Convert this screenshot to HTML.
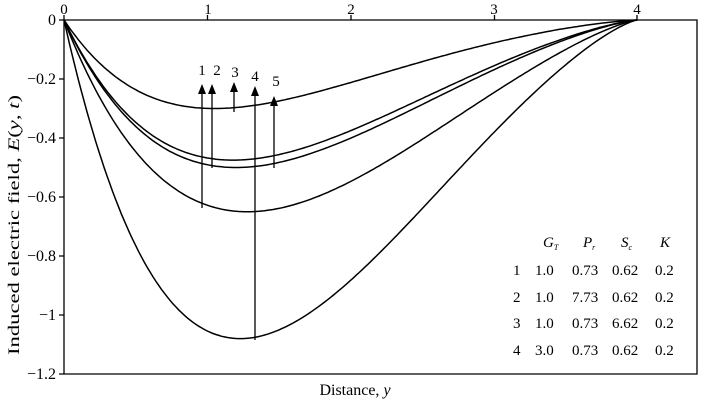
<!DOCTYPE html>
<html><head><meta charset="utf-8"><style>
body{margin:0;background:#fff}
svg{display:block}
text{font-family:"Liberation Serif",serif;fill:#000}
</style></head><body>
<svg id="s" width="709" height="402" viewBox="0 0 709 402" xmlns="http://www.w3.org/2000/svg">
<g stroke="#000" stroke-width="1.3" fill="none">
<path d="M64,20 H697 V374 H64 Z"/>
<path d="M64,20v-5M207.5,20v-5M351,20v-5M494.5,20v-5M637,20v-5"/>
<path d="M64,20h-5M64,79h-5M64,138h-5M64,197h-5M64,256h-5M64,315h-5M64,374h-5"/>
<g id="curves" stroke-width="1.5"></g>
<path d="M202,208V92M212,168V92M234,112V90M255,340V94M274,168V104"/>
</g>
<g fill="#000">
<path d="M198,94L202,84L206,94Z"/>
<path d="M208,94L212,84L216,94Z"/>
<path d="M230,92L234,82L238,92Z"/>
<path d="M251,96L255,86L259,96Z"/>
<path d="M270,106L274,96L278,106Z"/>
</g>
<g font-size="15" text-anchor="middle">
<text x="64" y="14">0</text><text x="208" y="14">1</text><text x="351" y="14">2</text><text x="494" y="14">3</text><text x="637" y="14">4</text>
</g>
<g font-size="16" text-anchor="end">
<text x="56" y="25">0</text><text x="56" y="84">−0.2</text><text x="56" y="143">−0.4</text><text x="56" y="202">−0.6</text><text x="56" y="261">−0.8</text><text x="56" y="320">−1</text><text x="56" y="379">−1.2</text>
</g>
<g font-size="15" text-anchor="middle">
<text x="202" y="75">1</text><text x="217" y="75">2</text><text x="235" y="77">3</text><text x="255" y="81">4</text><text x="276" y="86">5</text>
</g>
<text x="355" y="395" font-size="16" text-anchor="middle">Distance, <tspan font-style="italic">y</tspan></text>
<text transform="translate(19,225) rotate(-90)" font-size="16" text-anchor="middle" textLength="260" lengthAdjust="spacingAndGlyphs">Induced electric field, <tspan font-style="italic">E</tspan>(<tspan font-style="italic">y</tspan>, <tspan font-style="italic">t</tspan>)</text>
<g font-size="15">
<text x="543" y="247" font-style="italic">G<tspan font-size="8" dy="3">T</tspan></text>
<text x="583" y="247" font-style="italic">P<tspan font-size="8" dy="3">r</tspan></text>
<text x="621" y="247" font-style="italic">S<tspan font-size="8" dy="3">c</tspan></text>
<text x="660" y="247" font-style="italic">K</text>
<text x="513" y="275">1</text><text x="535" y="275">1.0</text><text x="572" y="275">0.73</text><text x="612" y="275">0.62</text><text x="655" y="275">0.2</text>
<text x="513" y="302">2</text><text x="535" y="302">1.0</text><text x="572" y="302">7.73</text><text x="612" y="302">0.62</text><text x="655" y="302">0.2</text>
<text x="513" y="328">3</text><text x="535" y="328">1.0</text><text x="572" y="328">0.73</text><text x="612" y="328">6.62</text><text x="655" y="328">0.2</text>
<text x="513" y="355">4</text><text x="535" y="355">3.0</text><text x="572" y="355">0.73</text><text x="612" y="355">0.62</text><text x="655" y="355">0.2</text>
</g>
</svg>
<script>
(function(){
var g=document.getElementById('curves');
function X(y){return 64+y*143.3;}
function Y(e){return 20-e*295;}
var r=1.3;
var cs=[[0.30,1.05],[0.475,1.18],[0.50,1.2],[0.65,1.28],[1.08,1.23]];
cs.forEach(function(c){
 var A=c[0],m=c[1],a=1/m-r/(4-m);
 function f(y){return y*Math.pow(4-y,r)*Math.exp(-a*y);}
 var fm=f(m),d='';
 for(var i=0;i<=200;i++){var y=4*i/200;
  d+=(i?'L':'M')+X(y).toFixed(1)+','+Y(-A*f(y)/fm).toFixed(1);}
 var pa=document.createElementNS('http://www.w3.org/2000/svg','path');
 pa.setAttribute('d',d);g.appendChild(pa);
});
})();
</script>
</body></html>
